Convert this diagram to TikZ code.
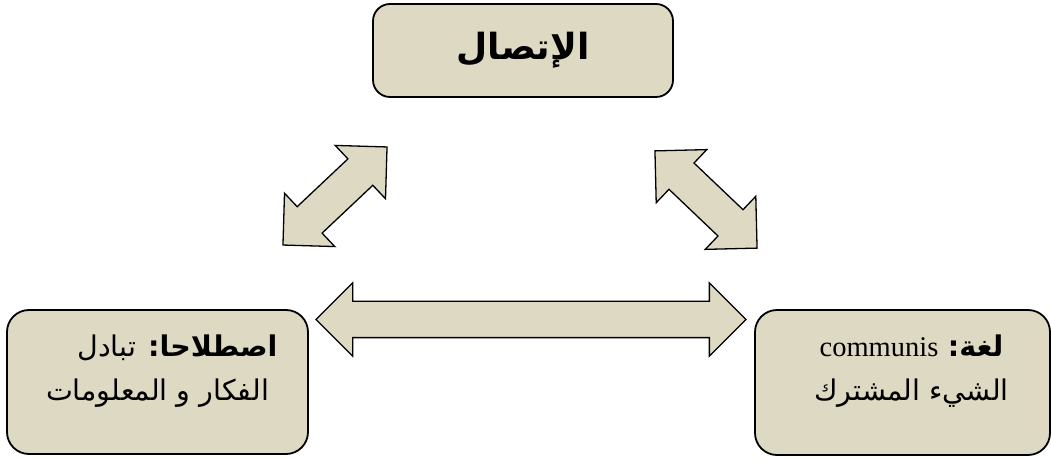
\documentclass[tikz,border=0pt]{standalone}
\usepackage{fontspec}
\setmainfont{Liberation Serif}
\newfontfamily\arabicfont[Script=Arabic]{DejaVu Sans}
\TeXXeTstate=1
\usetikzlibrary{positioning, shapes.arrows}
\definecolor{boxfill}{RGB}{221,217,195}

\begin{document}
\begin{tikzpicture}[x=1pt, y=1pt,
    box/.style={draw, line width=1.8pt, fill=boxfill, rounded corners=22pt, inner sep=0pt},
    boxtext/.style={align=center, font=\fontsize{28.5}{44}\selectfont, inner sep=0pt},
    dblarrow/.style={draw, line width=1.3pt, fill=boxfill, shape=double arrow,
        double arrow head extend=18.5pt, text height=35pt, text depth=0pt,
        inner sep=0pt, minimum width=0pt}]

    % Frame of the picture
    \useasboundingbox (0,0) rectangle (1051,460);

    % --- TOP BOX ---
    \node[box, rounded corners=17pt, minimum width=300pt, minimum height=93pt,
          font=\fontsize{36}{40}\selectfont] (ittisal) at (523,409.5)
          {\arabicfont\bfseries\beginR الإتصال\endR};

    % --- LEFT BOX ---
    \node[box, minimum width=301pt, minimum height=144pt] (istilah) at (157.5,78) {};
    \node[boxtext] (istilahtext) at ([yshift=11pt]istilah.center)
          {\hspace*{40pt}\arabicfont\beginR\textbf{اصطلاحا:} تبادل\endR\\
           \arabicfont\beginR الفكار و المعلومات\endR};

    % --- RIGHT BOX ---
    \node[box, minimum width=295pt, minimum height=145pt] (lugha) at (902.5,77.5) {};
    \node[boxtext] (lughatext) at ([xshift=9pt,yshift=11pt]lugha.center)
          {\beginR{\arabicfont\textbf{لغة:}} \beginL communis\endL\endR\\
           \arabicfont\beginR الشيء المشترك\endR};

    % --- DOUBLE ARROWS ---
    % Bottom: between the two lower boxes
    \node[dblarrow, minimum height=430pt] (lowarrow) at (531,140.5) {};
    % Left: from the left box up to the top box
    \node[dblarrow, minimum height=143pt, rotate=43.3] (leftarrow) at (335,264) {};
    % Right: from the top box down to the right box
    \node[dblarrow, minimum height=141pt, rotate=-43.6] (rightarrow) at (706,260.5) {};

\end{tikzpicture}
\end{document}
